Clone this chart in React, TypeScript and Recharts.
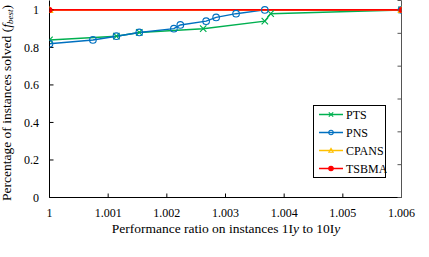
import React from "react";
import { LineChart, Line, XAxis, YAxis, Legend } from "recharts";

// ---- data ----
const xTickValues = [1, 1.001, 1.002, 1.003, 1.004, 1.005, 1.006];
const xTickLabels = ["1", "1.001", "1.002", "1.003", "1.004", "1.005", "1.006"];
const yTickValues = [0, 0.2, 0.4, 0.6, 0.8, 1];
const yTickLabels = ["0", "0.2", "0.4", "0.6", "0.8", "1"];
const rightTickValues = [0, 1, 2, 3, 4, 5, 6];

const ptsX = [1, 1.00114, 1.00153, 1.00262, 1.00367, 1.00377, 1.006];
const ptsY = [0.84, 0.86, 0.88, 0.9, 0.94, 0.98, 1.0];

const pnsX = [1, 1.00074, 1.00114, 1.00153, 1.00212, 1.00223, 1.00267, 1.00284, 1.00318, 1.00367, 1.006];
const pnsY = [0.82, 0.84, 0.86, 0.88, 0.9, 0.92, 0.94, 0.96, 0.98, 1.0, 1.0];

const cpansX = [1, 1.006];
const cpansY = [1.0, 1.0];

const tsbmaX = [1, 1.006];
const tsbmaY = [1.0, 1.0];

const seriesNames = ["PTS", "PNS", "CPANS", "TSBMA"];
const seriesColors = ["#00B050", "#0070C0", "#FFC000", "#FF0000"];

const build = (xs: number[], ys: number[]) => xs.map((x, i) => ({ x, y: ys[i] }));
const ptsData = build(ptsX, ptsY);
const pnsData = build(pnsX, pnsY);
const cpansData = build(cpansX, cpansY);
const tsbmaData = build(tsbmaX, tsbmaY);

const FONT = "Liberation Serif, Times New Roman, serif";

type Shape = "x" | "o" | "tri" | "dot";

const marker = (shape: Shape, cx: number, cy: number, color: string, s: number, key?: any) => {
  if (shape === "x") {
    return (
      <path key={key} d={`M${cx - s},${cy - s}L${cx + s},${cy + s}M${cx - s},${cy + s}L${cx + s},${cy - s}`} stroke={color} strokeWidth={1.2} fill="none" />
    );
  }
  if (shape === "o") {
    return <circle key={key} cx={cx} cy={cy} r={s} stroke={color} strokeWidth={1.1} fill="none" />;
  }
  if (shape === "tri") {
    return (
      <path key={key} d={`M${cx},${cy - s}L${cx + s},${cy + s * 0.8}L${cx - s},${cy + s * 0.8}Z`} stroke={color} strokeWidth={1.1} fill="none" />
    );
  }
  return <circle key={key} cx={cx} cy={cy} r={s} stroke={color} strokeWidth={1.2} fill={color} />;
};

const makeDot = (shape: Shape, color: string, s: number) => (props: any) => {
  const { cx, cy, index } = props;
  if (cx == null || cy == null) return <g key={`e-${index}`} />;
  return marker(shape, cx, cy, color, s, `${shape}-${index}`);
};

const EmptyTick = () => <g />;

const shapes: Shape[] = ["x", "o", "tri", "dot"];

const renderLegend = () => (
  <svg width={74} height={74} style={{ display: "block" }}>
    <rect x={0.5} y={0.5} width={72} height={72} fill="#fff" stroke="#000" strokeWidth={1} />
    {seriesNames.map((name, i) => {
      const cy = 9.5 + i * 18;
      return (
        <g key={name}>
          <line x1={6} x2={30} y1={cy} y2={cy} stroke={seriesColors[i]} strokeWidth={1.5} />
          {marker(shapes[i], 18, cy, seriesColors[i], 2.2)}
          <text x={33} y={cy + 4.2} style={{ fontFamily: FONT }} fontSize={12} fill="#000">
            {name}
          </text>
        </g>
      );
    })}
  </svg>
);

const XTitle = () => (
  <text x={226} y={233.3} textAnchor="middle" style={{ fontFamily: FONT }} fontSize={13.5} fill="#000">
    Performance ratio on instances 1I<tspan fontStyle="italic">y</tspan> to 10I<tspan fontStyle="italic">y</tspan>
  </text>
);

const YTitle = () => (
  <text
    x={0}
    y={0}
    transform="translate(10.5,103) rotate(-90)"
    textAnchor="middle"
    style={{ fontFamily: FONT }}
    fontSize={13.5}
    fill="#000"
  >
    Percentage of instances solved (<tspan fontStyle="italic">f</tspan>
    <tspan fontStyle="italic" fontSize={9} dy={2.5}>best</tspan>
    <tspan dy={-2.5}>)</tspan>
  </text>
);

export default function App() {
  return (
    <div style={{ position: "relative", width: 429, height: 257, fontFamily: FONT }}>
      <style>{"body{margin:0}"}</style>
      <LineChart width={429} height={257} margin={{ top: 0.5, right: 0, bottom: 0, left: 0 }}>
        <XAxis
          xAxisId="bottom"
          type="number"
          dataKey="x"
          domain={[1, 1.006]}
          ticks={xTickValues}
          interval={0}
          allowDataOverflow
          height={59.5}
          tickSize={-4}
          tickMargin={15}
          tickFormatter={(_v: number, i: number) => xTickLabels[i]}
          tick={{ fill: "#000", fontSize: 12, fontFamily: FONT }}
          axisLine={{ stroke: "#000", strokeWidth: 1 }}
          tickLine={{ stroke: "#000" }}
          label={XTitle as any}
        />
        <XAxis
          xAxisId="top"
          orientation="top"
          type="number"
          dataKey="x"
          domain={[1, 1.006]}
          ticks={xTickValues}
          interval={0}
          allowDataOverflow
          height={0}
          tickSize={-4}
          tick={EmptyTick as any}
          axisLine={{ stroke: "#555", strokeWidth: 1 }}
          tickLine={{ stroke: "#555" }}
        />
        <YAxis
          yAxisId="left"
          type="number"
          domain={[0, 1.05]}
          ticks={yTickValues}
          interval={0}
          allowDataOverflow
          width={49.5}
          tickSize={-4}
          tickMargin={14.5}
          tickFormatter={(_v: number, i: number) => yTickLabels[i]}
          tick={{ fill: "#000", fontSize: 12, fontFamily: FONT }}
          axisLine={{ stroke: "#000", strokeWidth: 1 }}
          tickLine={{ stroke: "#000" }}
          label={YTitle as any}
        />
        <YAxis
          yAxisId="right"
          orientation="right"
          type="number"
          domain={[0, 6]}
          ticks={rightTickValues}
          interval={0}
          allowDataOverflow
          width={27.5}
          tickSize={-4}
          tick={EmptyTick as any}
          axisLine={{ stroke: "#555", strokeWidth: 1 }}
          tickLine={{ stroke: "#555" }}
        />
        <Line
          xAxisId="bottom"
          yAxisId="left"
          data={ptsData}
          dataKey="y"
          name="PTS"
          type="linear"
          stroke={seriesColors[0]}
          strokeWidth={1.5}
          dot={makeDot("x", seriesColors[0], 3.2)}
          activeDot={false}
          isAnimationActive={false}
        />
        <Line
          xAxisId="bottom"
          yAxisId="left"
          data={pnsData}
          dataKey="y"
          name="PNS"
          type="linear"
          stroke={seriesColors[1]}
          strokeWidth={1.5}
          dot={makeDot("o", seriesColors[1], 3.3)}
          activeDot={false}
          isAnimationActive={false}
        />
        <Line
          xAxisId="bottom"
          yAxisId="left"
          data={cpansData}
          dataKey="y"
          name="CPANS"
          type="linear"
          stroke={seriesColors[2]}
          strokeWidth={1.5}
          dot={makeDot("tri", seriesColors[2], 3.2)}
          activeDot={false}
          isAnimationActive={false}
        />
        <Line
          xAxisId="bottom"
          yAxisId="left"
          data={tsbmaData}
          dataKey="y"
          name="TSBMA"
          type="linear"
          stroke={seriesColors[3]}
          strokeWidth={1.8}
          dot={makeDot("dot", seriesColors[3], 2.4)}
          activeDot={false}
          isAnimationActive={false}
        />
        <Legend
          verticalAlign="middle"
          align="center"
          layout="horizontal"
          wrapperStyle={{ position: "absolute", left: 313, top: 105, width: 74, height: 74 }}
          content={renderLegend}
        />
      </LineChart>
    </div>
  );
}
